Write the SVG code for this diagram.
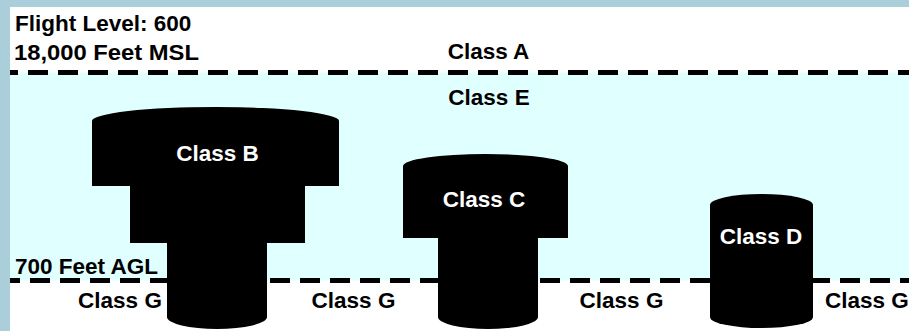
<svg xmlns="http://www.w3.org/2000/svg" width="909" height="331" viewBox="0 0 909 331">
  <style>
    text { font-family: "Liberation Sans", Arial, sans-serif; font-weight: bold; font-size: 22.5px; }
    .dark { fill: #000000; }
    .light { fill: #ffffff; }
    .mid { text-anchor: middle; }
    .airspace { fill: #000000; }
    .boundary { fill: none; stroke: #000000; stroke-width: 5; stroke-dasharray: 20 10; }
  </style>

  <!-- sky: white above FL180 and below 700 AGL, light cyan in between -->
  <rect x="0" y="0" width="909" height="331" fill="#ffffff"/>
  <rect x="0" y="72.5" width="909" height="208" fill="#e0ffff"/>

  <!-- altitude boundaries -->
  <g id="boundaries">
    <line class="boundary" x1="-2" y1="72.5" x2="909" y2="72.5"/>
    <line class="boundary" x1="0" y1="280.5" x2="909" y2="280.5"/>
  </g>

  <g id="altitude-labels">
    <text class="dark" x="15" y="30.5">Flight Level: 600</text>
    <text class="dark" x="14" y="59.5" textLength="185" lengthAdjust="spacingAndGlyphs">18,000 Feet MSL</text>
    <text class="dark" x="15" y="274.3">700 Feet AGL</text>
  </g>

  <g id="class-a">
    <text class="dark mid" x="488.5" y="58.5">Class A</text>
  </g>

  <g id="class-e">
    <text class="dark mid" x="489" y="105">Class E</text>
  </g>

  <g id="class-b">
    <path class="airspace" d="M 92,186 L 92,121 A 123.5 14 0 0 1 339,121 L 339,186 L 305,186 L 305,243 L 267,243 L 267,317 A 50 12 0 0 1 167,317 L 167,243 L 130,243 L 130,186 Z"/>
    <text class="light mid" x="217.5" y="161">Class B</text>
  </g>

  <g id="class-c">
    <path class="airspace" d="M 403,238 L 403,166 A 82.5 12 0 0 1 568,166 L 568,238 L 538,238 L 538,317 A 50 12 0 0 1 438,317 L 438,238 Z"/>
    <text class="light mid" x="484" y="206.7">Class C</text>
  </g>

  <g id="class-d">
    <path class="airspace" d="M 710,317 L 710,205 A 51.5 11 0 0 1 813,205 L 813,317 A 51.5 11 0 0 1 710,317 Z"/>
    <text class="light mid" x="761" y="244">Class D</text>
  </g>

  <g id="class-g">
    <text class="dark mid" x="120" y="308.3">Class G</text>
    <text class="dark mid" x="353.5" y="308.3">Class G</text>
    <text class="dark mid" x="621.5" y="308.3">Class G</text>
    <text class="dark" x="825" y="308.3">Class G</text>
  </g>

  <!-- frame -->
  <rect x="0" y="0" width="909" height="7" fill="#aacfda"/>
  <rect x="0" y="0" width="10" height="331" fill="#aacfda"/>
</svg>
